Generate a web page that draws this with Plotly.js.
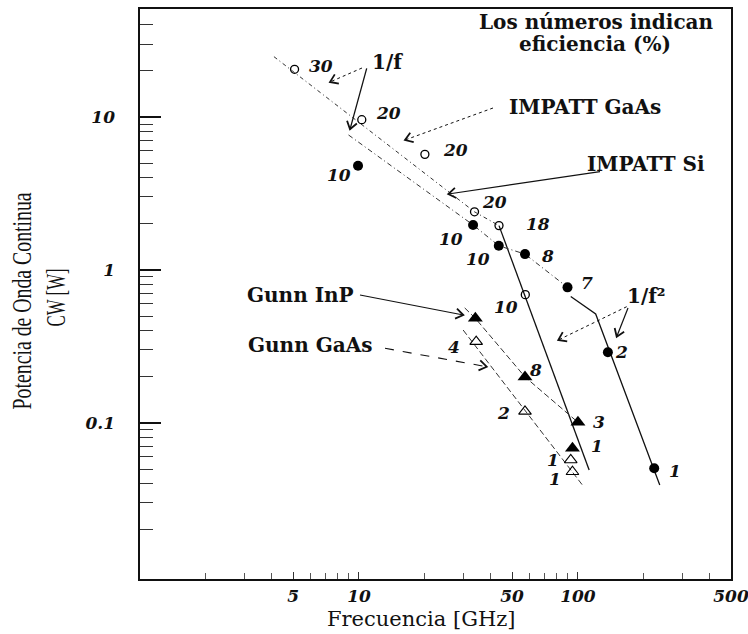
<!DOCTYPE html>
<html><head><meta charset="utf-8">
<script src="https://cdn.plot.ly/plotly-3.0.1.min.js"></script>
<style>body{margin:0;background:#fff}#chart{width:748px;height:634px}</style>
</head><body><div id="chart"></div>
<script>
// ---------- data (GHz, W, efficiency %) ----------
const gaasImpattFreq = [5.08, 10.3, 20, 33.7, 43.6, 57.5];
const gaasImpattPow  = [20.5, 9.6, 5.7, 2.4, 1.95, 0.69];
const gaasImpattEff  = ['30', '20', '20', '20', '18', '10'];

const siImpattFreq = [9.9, 33.2, 43.5, 57.3, 89.6, 137, 223];
const siImpattPow  = [4.8, 1.97, 1.44, 1.27, 0.77, 0.29, 0.0506];
const siImpattEff  = ['10', '10', '10', '8', '7', '2', '1'];

const inpGunnFreq = [34.0, 57.3, 100, 94.4];
const inpGunnPow  = [0.483, 0.2, 0.101, 0.0684];
const inpGunnEff  = ['', '8', '3', '1'];

const gaasGunnFreq = [34.3, 57.3, 92.7, 94.4];
const gaasGunnPow  = [0.34, 0.119, 0.0573, 0.048];
const gaasGunnEff  = ['4', '2', '1', '1'];

// envelope (limit) lines
const gaasImpattFLimFreq = [4.09, 33.7, 43.6];
const gaasImpattFLimPow  = [24.8, 2.4, 1.95];
const gaasImpattF2LimFreq = [43.6, 112.5];
const gaasImpattF2LimPow  = [1.95, 0.0493];

const siImpattFLimFreq = [8.96, 33.2, 43.5, 57.3, 89.6];
const siImpattFLimPow  = [7.63, 1.97, 1.44, 1.27, 0.77];
const siImpattF2LimFreq = [92.7, 120.5, 236.4];
const siImpattF2LimPow  = [0.67, 0.516, 0.0393];

const inpGunnLimFreq = [30.4, 34.0, 57.3, 100];
const inpGunnLimPow  = [0.565, 0.483, 0.2, 0.101];
const gaasGunnLimFreq = [29.9, 104.8];
const gaasGunnLimPow  = [0.405, 0.0393];

// axis ticks
const xTickVals = [5, 10, 50, 100, 500];
const xTickText = ['5', '10', '50', '100', '500'];
const xMinorVals = [2,3,4,6,7,8,9,20,30,40,60,70,80,90,200,300,400];
const yTickVals = [0.1, 1, 10];
const yTickText = ['0.1', '1', '10'];
const yMinorVals = [0.02,0.03,0.04,0.05,0.06,0.07,0.08,0.09,0.2,0.3,0.4,0.5,0.6,0.7,0.8,0.9,2,3,4,5,6,7,8,9,20,30,40];

// ---------- styling / layout helpers ----------
const L = 140, R = 731, T = 9, B = 579;
const W = R - L, H = B - T;
const px = (x, y) => [(x - L) / W, (B - y) / H];

const serif = 'DejaVu Serif';
const numFont = {family: serif, size: 17, color: '#111', weight: 'bold', style: 'italic'};
const lblFont = {family: serif, size: 20, color: '#111', weight: 'bold'};
const yTitleFont = {family: 'Liberation Serif', size: 27, color: '#111'};

function lineTrace(x, y, dash, width, color) {
  return {x, y, mode: 'lines', type: 'scatter', hoverinfo: 'skip',
    line: {color: color || '#222', width: width || 1, dash: dash}};
}
function markerTrace(x, y, symbol, size, lw) {
  return {x, y, mode: 'markers', type: 'scatter', hoverinfo: 'skip',
    marker: {symbol, size, color: '#000', line: {color: '#000', width: lw || 0}}};
}

const traces = [
  lineTrace(gaasImpattFLimFreq, gaasImpattFLimPow, '4px,3px,1px,3px', 1, '#333'),
  lineTrace(gaasImpattF2LimFreq, gaasImpattF2LimPow, 'solid', 1.3, '#111'),
  lineTrace(siImpattFLimFreq, siImpattFLimPow, '5px,3px,1px,3px', 1, '#333'),
  lineTrace(siImpattF2LimFreq, siImpattF2LimPow, 'solid', 1.3, '#111'),
  lineTrace(inpGunnLimFreq, inpGunnLimPow, '6px,3px', 1, '#333'),
  lineTrace(gaasGunnLimFreq, gaasGunnLimPow, '6px,3px', 1, '#333'),
  markerTrace(gaasImpattFreq, gaasImpattPow, 'circle-open', 8, 1.3),
  markerTrace(siImpattFreq, siImpattPow, 'circle', 10, 0),
  markerTrace(inpGunnFreq, inpGunnPow, 'triangle-up', 13, 0),
  markerTrace(gaasGunnFreq, gaasGunnPow, 'triangle-up-open', 11, 1.1)
];

// label offsets (pixels, right / down) for efficiency numbers
const gaasImpattOff = [[26,-3],[27,-7],[31,-4],[20,-10],[39,-2],[-19,12]];
const siImpattOff   = [[-19,9],[-22,14],[-21,13],[23,2],[19,-4],[14,0],[21,3]];
const inpGunnOff    = [[0,0],[11,-7],[21,0],[25,-2]];
const gaasGunnOff   = [[-22,5],[-21,2],[-18,0],[-17,7]];

const annotations = [];
function addNums(fr, pw, eff, off) {
  fr.forEach((f, i) => {
    if (!eff[i]) return;
    annotations.push({x: Math.log10(f), y: Math.log10(pw[i]), xref: 'x', yref: 'y',
      text: eff[i], showarrow: false, font: numFont,
      xshift: off[i][0], yshift: -off[i][1]});
  });
}
addNums(gaasImpattFreq, gaasImpattPow, gaasImpattEff, gaasImpattOff);
addNums(siImpattFreq, siImpattPow, siImpattEff, siImpattOff);
addNums(inpGunnFreq, inpGunnPow, inpGunnEff, inpGunnOff);
addNums(gaasGunnFreq, gaasGunnPow, gaasGunnEff, gaasGunnOff);

function addText(text, x, y, font, extra) {
  const p = px(x, y);
  annotations.push(Object.assign({x: p[0], y: p[1], xref: 'paper', yref: 'paper',
    text, showarrow: false, font, xanchor: 'center', yanchor: 'middle'}, extra || {}));
}
addText('Los números indican', 596, 22, lblFont);
addText('eficiencia (%)', 595, 44, lblFont);
addText('1/f', 387, 62, lblFont);
addText('IMPATT GaAs', 585, 107, lblFont);
addText('IMPATT Si', 646, 164, lblFont);
addText('Gunn InP', 300, 295, lblFont);
addText('Gunn GaAs', 310, 345, lblFont);
addText('1/f²', 646, 296, lblFont);
addText('Frecuencia [GHz]', 421, 619, {family: serif, size: 21, color: '#111'});
addText('Potencia de Onda Continua', 22, 301, yTitleFont, {textangle: -90});
addText('CW [W]', 56, 298, yTitleFont, {textangle: -90});
// condensed widths of the two y-title lines (px)
const yTitleLengths = {'Potencia de Onda Continua': 217, 'CW [W]': 58};

// arrows (pixel positions of tail -> head)
const arrows = [
  {from: [366.7, 68.3], to: [350, 129.3], dash: 'solid', w: 1.3},
  {from: [362, 68], to: [330, 82], dash: 'dot', w: 1},
  {from: [493, 108], to: [405, 140], dash: 'dot', w: 1},
  {from: [600, 171.7], to: [448.3, 194], dash: 'solid', w: 1.2},
  {from: [360, 295], to: [463.3, 315], dash: 'solid', w: 1.2},
  {from: [385, 348.3], to: [486.7, 366.7], dash: 'dash', w: 1.1},
  {from: [626.7, 306.7], to: [558.3, 340], dash: 'dot', w: 1},
  {from: [628, 308], to: [616.7, 336.7], dash: 'solid', w: 1.2}
];
const shapes = [];
arrows.forEach(a => {
  const p0 = px(a.from[0], a.from[1]), p1 = px(a.to[0], a.to[1]);
  shapes.push({type: 'line', xref: 'paper', yref: 'paper', x0: p0[0], y0: p0[1], x1: p1[0], y1: p1[1],
    line: {color: '#111', width: a.w, dash: a.dash}});
  const ang = Math.atan2(a.from[1] - a.to[1], a.from[0] - a.to[0]);
  const len = 9, spread = 0.6;
  const w1 = px(a.to[0] + len * Math.cos(ang + spread), a.to[1] + len * Math.sin(ang + spread));
  const w2 = px(a.to[0] + len * Math.cos(ang - spread), a.to[1] + len * Math.sin(ang - spread));
  shapes.push({type: 'path', xref: 'paper', yref: 'paper',
    path: `M ${w1[0]} ${w1[1]} L ${p1[0]} ${p1[1]} L ${w2[0]} ${w2[1]}`,
    line: {color: '#111', width: 1.8}});
});

const xRange = [0, Math.log10(500)];
const yRange = [-2.02, 1.706];

const layout = {
  width: 748, height: 634,
  margin: {l: L, r: 748 - R, t: T, b: 634 - B},
  paper_bgcolor: '#fff', plot_bgcolor: '#fff',
  showlegend: false,
  xaxis: {type: 'log', range: xRange, showgrid: false, zeroline: false,
    showline: true, linecolor: '#111', linewidth: 1.6, mirror: true,
    ticks: 'inside', ticklen: 7, tickwidth: 1, tickcolor: '#333',
    tickmode: 'array', tickvals: xTickVals, ticktext: xTickText,
    tickfont: numFont, ticklabelstandoff: 1, ticklabeloverflow: 'allow',
    minor: {tickmode: 'array', tickvals: xMinorVals, ticks: 'inside', ticklen: 6, tickwidth: 1, tickcolor: '#555', showgrid: false}},
  xaxis2: {type: 'log', range: xRange, overlaying: 'x', anchor: 'y', side: 'bottom',
    showgrid: false, zeroline: false, showline: false, showticklabels: false,
    ticks: 'inside', ticklen: 12, tickwidth: 1.4, tickcolor: '#111',
    tickmode: 'array', tickvals: [10, 100]},
  yaxis: {type: 'log', range: yRange, showgrid: false, zeroline: false,
    showline: true, linecolor: '#111', linewidth: 1.6, mirror: true,
    ticks: 'inside', ticklen: 21, tickwidth: 1.4, tickcolor: '#111',
    tickmode: 'array', tickvals: yTickVals, ticktext: yTickText,
    tickfont: numFont, ticklabelstandoff: 20,
    minor: {tickmode: 'array', tickvals: yMinorVals, ticks: 'inside', ticklen: 13, tickwidth: 1, tickcolor: '#333', showgrid: false}},
  annotations, shapes
};

function condenseYTitle() {
  document.querySelectorAll('#chart .annotation-text').forEach(el => {
    const len = yTitleLengths[el.textContent];
    if (len) {
      el.setAttribute('textLength', len);
      el.setAttribute('lengthAdjust', 'spacingAndGlyphs');
    }
  });
}

Plotly.newPlot('chart', traces, layout, {staticPlot: true, displayModeBar: false}).then(condenseYTitle);
</script>
</body></html>
